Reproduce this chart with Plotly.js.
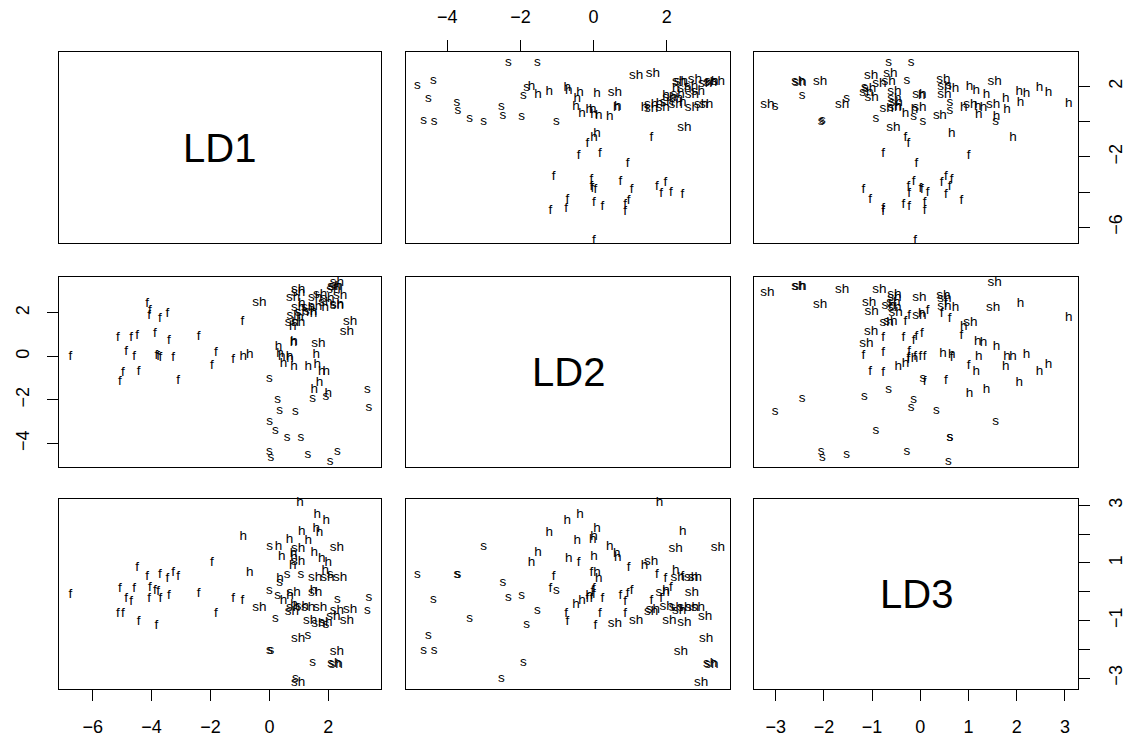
<!DOCTYPE html>
<html><head><meta charset="utf-8">
<script src="https://cdn.plot.ly/plotly-3.0.1.min.js"></script>
<style>body{margin:0;background:#fff}</style>
</head><body><div id="chart" style="width:1125px;height:740px"></div>
<script>
const varNames = ["LD1", "LD2", "LD3"];

// group "f"
const fLD1 = [-4.15,-4.06,-4.08,-3.72,-3.46,-5.14,-4.69,-4.49,-3.89,-3.41,-2.40,-4.86,-4.59,-3.84,-3.78,-3.70,-3.27,-6.76,-1.82,-1.95,-1.23,-4.97,-5.08,-4.44,-3.10,-0.92];
const fLD2 = [2.43,2.11,1.85,1.73,1.96,0.86,0.86,0.96,1.04,0.73,0.93,0.24,0.01,0.05,-0.03,-0.06,-0.06,0.01,0.17,-0.41,-0.17,-0.75,-1.18,-0.72,-1.09,1.58];
const fLD3 = [0.53,0.15,-0.23,0.61,0.44,-0.77,-0.35,0.85,0.03,-0.14,-0.08,-0.23,0.09,-1.18,0.00,-0.25,0.65,-0.11,-0.77,1.00,-0.25,-0.77,0.09,-1.04,0.53,-0.31];

// group "h"
const hLD1 = [-0.89,-0.67,0.79,0.82,0.84,0.31,0.42,0.68,1.59,0.48,0.84,1.32,1.63,1.78,1.93,1.70,1.52,2.00,0.36,0.70,1.04,1.10,1.90,1.50];
const hLD2 = [0.01,0.09,1.39,0.63,0.66,0.44,0.01,-0.02,0.09,-0.32,-0.48,-0.45,-0.37,-0.68,-0.72,-1.21,-1.52,-1.70,0.14,-0.12,1.80,2.44,2.25,1.98];
const hLD3 = [1.92,0.65,0.90,1.31,1.19,1.58,1.21,1.80,2.20,-0.31,-0.46,1.77,2.66,1.16,2.47,2.05,1.37,1.02,0.47,-0.12,3.08,2.08,0.73,0.03];

// group "s"
const sLD1 = [0.00,1.47,1.92,3.33,3.38,0.28,0.35,0.88,0.01,0.20,0.60,1.07,0.00,0.05,1.31,2.31,2.06];
const sLD2 = [-1.02,-1.92,-1.83,-1.54,-2.33,-1.97,-2.48,-2.52,-3.01,-3.39,-3.71,-3.74,-4.36,-4.65,-4.52,-4.38,-4.82];
const sLD3 = [0.05,-2.45,-1.16,-0.66,-0.19,-0.14,0.33,-3.01,1.56,-0.92,0.61,0.61,-2.06,-2.03,-1.53,-0.28,0.58];

// group "sh"
const shLD1 = [0.98,2.29,0.98,1.55,1.97,2.40,0.82,1.55,2.74,1.10,1.32,-0.34,0.81,1.72,2.29,2.63,2.17,1.38,1.90,1.66,0.98,2.29,2.21,2.25,0.98,0.76];
const shLD2 = [2.24,3.40,1.57,2.30,2.67,2.77,1.89,2.69,1.62,2.00,2.25,2.48,2.69,2.85,2.34,1.16,3.05,2.07,2.48,0.58,3.08,2.39,3.19,3.22,2.94,1.57];
const shLD3 = [1.51,1.54,1.04,0.50,0.50,0.48,-0.02,-0.02,-0.62,-0.51,-0.54,-0.56,-0.54,-0.54,-0.66,-1.02,-0.85,-1.01,-1.06,-1.12,-1.62,-2.08,-2.51,-2.53,-3.17,-0.70];

const groupNames = ["f", "h", "s", "sh"];

// tick values per axis
const ticksLD1 = [-6,-4,-2,0,2];
const ticksLD2 = [-4,-2,0,2];
const ticksLD3 = [-3,-2,-1,0,1,2,3];

// assemble
const groups = [[fLD1,fLD2,fLD3],[hLD1,hLD2,hLD3],[sLD1,sLD2,sLD3],[shLD1,shLD2,shLD3]];
const data = [[],[],[]];
const labels = [];
groups.forEach((g, gi) => {
  g[0].forEach((v, i) => {
    data[0].push(g[0][i]); data[1].push(g[1][i]); data[2].push(g[2][i]);
    labels.push(groupNames[gi]);
  });
});

const W = 1125, H = 740;
const colPx = [[58.5,381],[406,730],[754,1078]];
const rowPx = [[52,243],[276.5,467],[499,689]];
const xRange = [[-7.16,3.79],[-5.13,3.73],[-3.45,3.27]];
const yRange = [[-6.9,3.96],[-5.08,3.67],[-3.38,3.22]];

const FONT = "Liberation Sans, Arial, Helvetica, sans-serif";
const tickFont = {family: FONT, size: 18, color: "#000"};

function minus(v){ return v < 0 ? "\u2212" + Math.abs(v) : String(v); }

const layout = {
  width: W, height: H,
  margin: {l:0, r:0, t:0, b:0},
  paper_bgcolor: "#fff", plot_bgcolor: "#fff",
  showlegend: false,
  font: {family: FONT, color: "#000"},
  annotations: []
};
const traces = [];

for (let r = 0; r < 3; r++) {
  for (let c = 0; c < 3; c++) {
    const k = r*3 + c + 1;
    const sfx = k === 1 ? "" : String(k);
    const xa = {
      domain: [colPx[c][0]/W, colPx[c][1]/W],
      range: xRange[c], anchor: "y" + sfx,
      showline: true, mirror: true, linecolor: "#000", linewidth: 1,
      showgrid: false, zeroline: false, ticks: "", showticklabels: false, fixedrange: true
    };
    const ya = {
      domain: [1 - rowPx[r][1]/H, 1 - rowPx[r][0]/H],
      range: yRange[r], anchor: "x" + sfx,
      showline: true, mirror: true, linecolor: "#000", linewidth: 1,
      showgrid: false, zeroline: false, ticks: "", showticklabels: false, fixedrange: true
    };
    layout["xaxis" + sfx] = xa; layout["yaxis" + sfx] = ya;

    if (r === c) {
      layout.annotations.push({
        xref: "paper", yref: "paper",
        x: (colPx[c][0] + colPx[c][1]) / 2 / W,
        y: 1 - (rowPx[r][0] + rowPx[r][1]) / 2 / H,
        text: varNames[r], showarrow: false,
        xanchor: "center", yanchor: "middle",
        font: {family: FONT, size: 40, color: "#000"}
      });
      traces.push({type: "scatter", mode: "none", x: [], y: [], xaxis: "x" + sfx, yaxis: "y" + sfx, hoverinfo: "skip"});
    } else {
      traces.push({
        type: "scatter", mode: "text",
        x: data[c], y: data[r], text: labels,
        textposition: "middle center",
        textfont: {family: FONT, size: 13.5, color: "#000"},
        xaxis: "x" + sfx, yaxis: "y" + sfx,
        hoverinfo: "skip", cliponaxis: false
      });
    }
  }
}

function tickAxis(ax, vals, shown, extra) {
  ax.ticks = "outside"; ax.ticklen = 11; ax.tickwidth = 1; ax.tickcolor = "#000";
  ax.showticklabels = true; ax.tickmode = "array"; ax.tickvals = vals;
  ax.ticktext = vals.map(v => shown.includes(v) ? minus(v) : "");
  ax.tickfont = tickFont;
  ax.ticklabelstandoff = 10;
  Object.assign(ax, extra || {});
}

// top axis, column 2 (LD2)
tickAxis(layout.xaxis2, ticksLD2, ticksLD2, {side: "top"});
// right axis, row 1 (LD1)
tickAxis(layout.yaxis3, ticksLD1, [-6,-2,2], {side: "right", tickangle: -90});
// left axis, row 2 (LD2)
tickAxis(layout.yaxis4, ticksLD2, ticksLD2, {side: "left", tickangle: -90});
// bottom axis, column 1 (LD1)
tickAxis(layout.xaxis7, ticksLD1, ticksLD1, {side: "bottom"});
// bottom axis, column 3 (LD3)
tickAxis(layout.xaxis9, ticksLD3, ticksLD3, {side: "bottom"});
// right axis, row 3 (LD3)
tickAxis(layout.yaxis9, ticksLD3, [-3,-1,1,3], {side: "right", tickangle: -90});

Plotly.newPlot("chart", traces, layout, {staticPlot: true, displayModeBar: false});
</script>
</body></html>
